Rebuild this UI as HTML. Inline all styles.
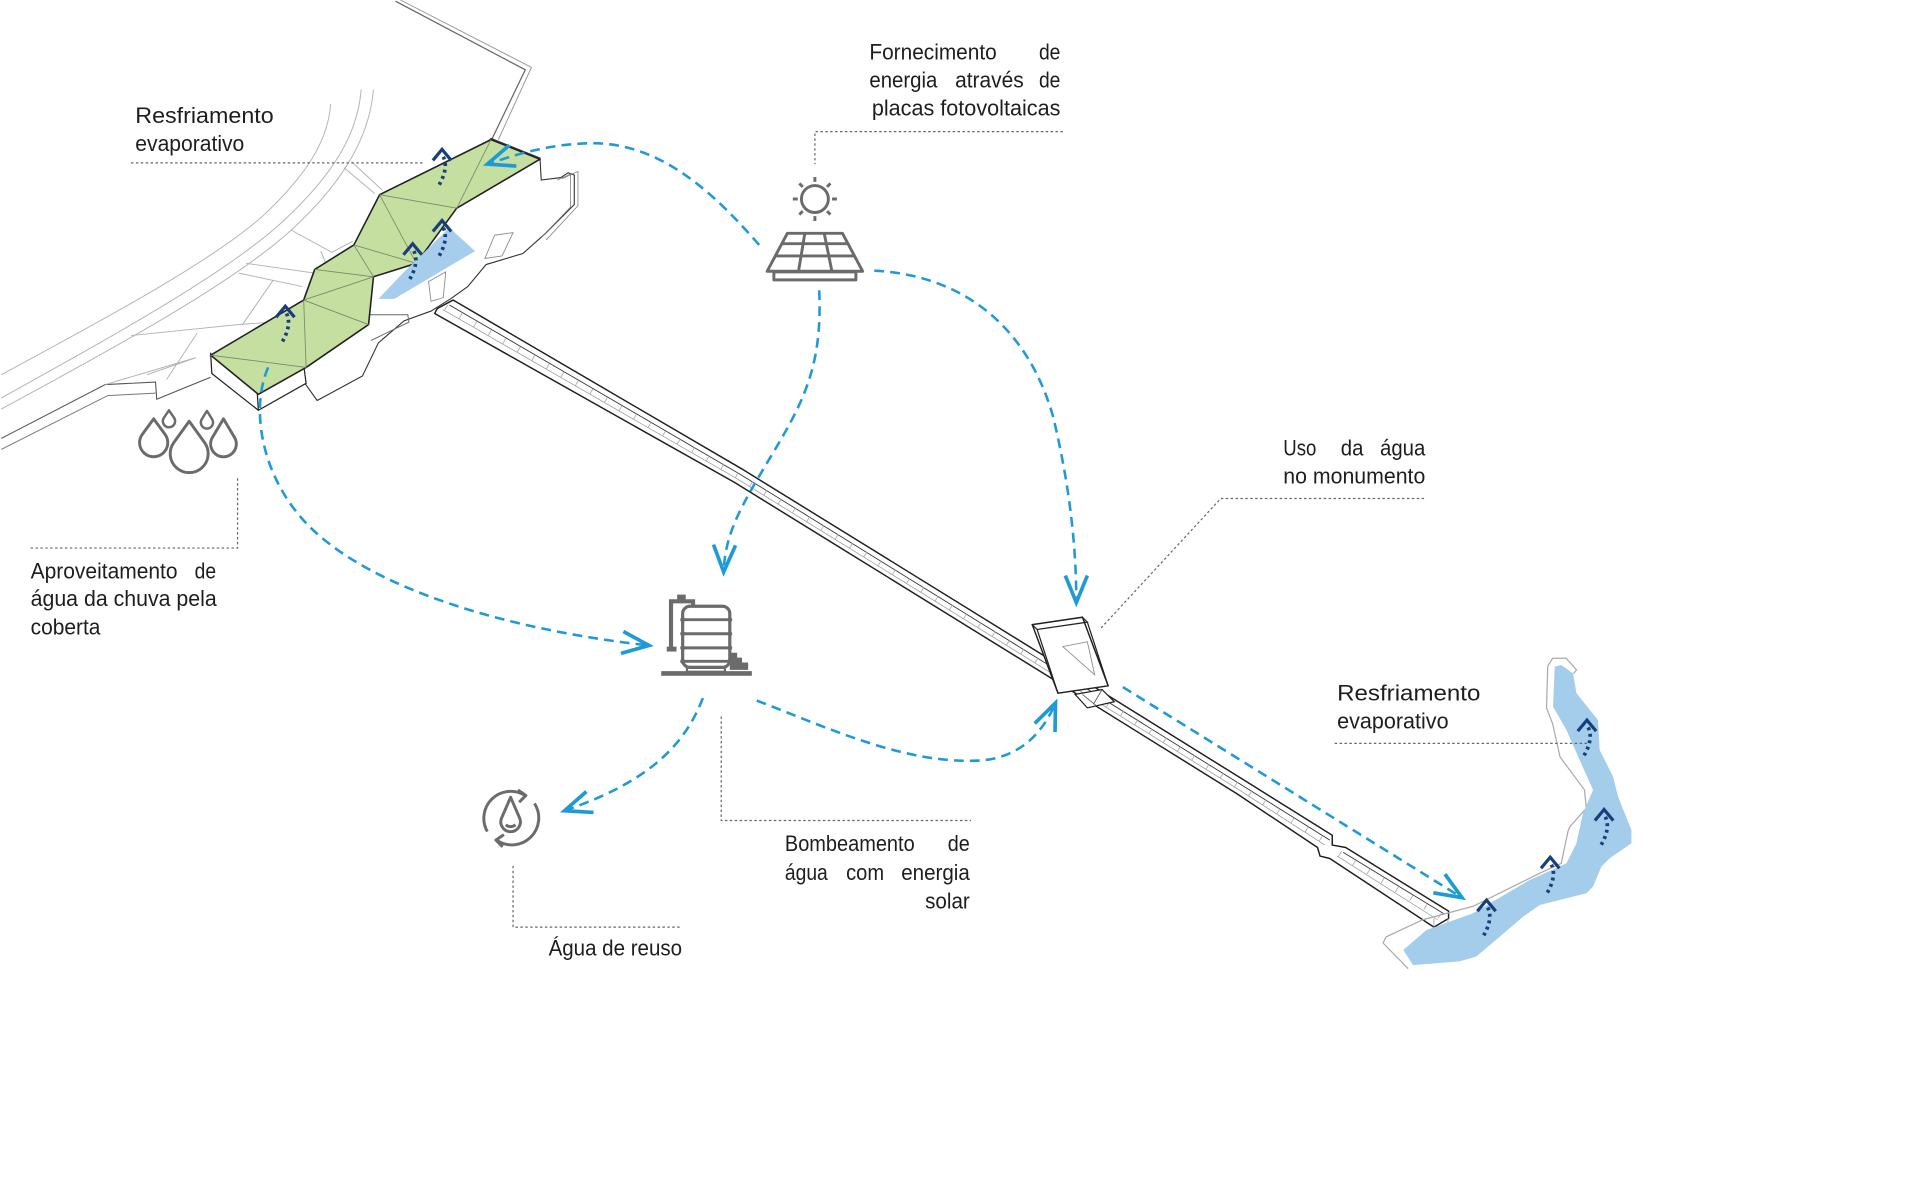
<!DOCTYPE html>
<html><head><meta charset="utf-8"><style>
html,body{margin:0;padding:0;background:#fff;}
svg{display:block;}
</style></head><body>
<svg xmlns="http://www.w3.org/2000/svg" width="1920" height="1192" viewBox="0 0 1568 973.3" preserveAspectRatio="none">
<style>
.ld{fill:none;stroke:#b4b4b4;stroke-width:0.8;stroke-linejoin:round}
.dk{fill:none;stroke:#1f1f1f;stroke-width:1.2;stroke-linejoin:round}
.bl{fill:none;stroke:#1f9ad6;stroke-width:2.1;stroke-dasharray:8 5}
.lead{fill:none;stroke:#666;stroke-width:1;stroke-dasharray:2 2}
.ic{fill:none;stroke:#6b6b6b;stroke-width:2.4;stroke-linejoin:round}
text{font-family:"Liberation Sans",sans-serif;font-size:18px;fill:#1e1e1e}
</style>
<defs>
<marker id="ah" viewBox="-26 -12 28 24" refX="0" refY="0" markerWidth="28" markerHeight="24" orient="auto" markerUnits="userSpaceOnUse" overflow="visible">
<path d="M-22,-9 L0,0 L-22,9" fill="none" stroke="#1f9ad6" stroke-width="3" stroke-linejoin="miter"/>
</marker>
<g id="ev">
<path d="M-7.5,9 L0,0 L7.5,9" fill="none" stroke="#183f7c" stroke-width="2.6"/>
<path d="M1,6 C4,12 3,20 -3,30" fill="none" stroke="#183f7c" stroke-width="3" stroke-dasharray="2.4 3"/>
</g>
</defs>

<!-- landscape -->
<path class="ld" d="M1,306 C90,258 175,212 215,176 C250,143 268,115 270,85"/>
<path class="ld" d="M1,325 C100,270 190,220 234,178 C272,142 292,110 295,73"/>
<path class="ld" d="M1,334 C105,278 200,225 243,183 C282,146 302,110 305,73"/>
<path d="M323,1 L429,57 L402,113" fill="none" stroke="#666" stroke-width="1"/>
<path d="M327,0 L434,55 L407,114" fill="none" stroke="#999" stroke-width="0.8"/>
<path d="M1,358 L86,314 L127,312 L128,326 L172,308" fill="none" stroke="#555" stroke-width="0.9"/>
<path d="M1,367 L88,323 L127,321" fill="none" stroke="#777" stroke-width="0.8"/>
<path class="ld" d="M281,137 L306,158 M287,132 L312,155 M238,188 L271,206 L288,197 M201,215 L257,223 M195,223 L247,234 M223,229 L198,265 M107,274 L195,265 L250,261 M161,272 L136,310 M120,306 L160,292 M86,314 L160,292 M262,205 L268,220"/>

<!-- building base -->
<path d="M401,113 L441,129 L442,147 L458,145 L464,141 L469,143 L469,167 L445,191 L427,207 L397,216 L382,234 L368,244 L360,249 L352,254 L330,262 L309,280 L296,307 L259,327 L249,313 L248,298 L299,264 L304,225 Z" fill="#fff" stroke="#333" stroke-width="0.9"/>
<path d="M455,147 L466,142 L466,169 L442,194 M459,146 L472,140 L472,168 L446,196" fill="none" stroke="#777" stroke-width="0.6"/>
<path d="M396,211 L404,192 L419,190 L410,209 Z" fill="none" stroke="#888" stroke-width="0.7"/>
<path d="M350,230 L364,222 L362,243 L352,246 Z" fill="none" stroke="#888" stroke-width="0.7"/>
<path d="M302,257 L333,257 L334,263 L303,278" fill="none" stroke="#666" stroke-width="0.8"/>
<path d="M172,288 L173,305 L211,335 L250,313 L248,298" fill="#fff" stroke="#222" stroke-width="1"/>
<path d="M211,335 L210,319" stroke="#222" stroke-width="1"/>

<!-- bridge -->
<path d="M357,252 L370,245 L606,383 L700,441 L860,540 L1016,637 L1088,682 L1088,690 L1099,692 L1183,744 L1183,750 L1171,757" class="dk" stroke-width="1.3"/>
<path d="M357,252 L355,256 L600,394 L694,452 L854,551 L1010,648 L1076,692 L1078,699 L1086,701 L1171,757" class="dk" stroke-width="1.3"/>
<path d="M367,249 L604,387 L698,445 L858,544 L1014,641 L1086,686 M1097,696 L1179,746" fill="none" stroke="#333" stroke-width="0.7"/>
<path d="M362,253 L602,391 L696,449 L856,548 L1012,645 L1082,690 M1092,699 L1174,751" fill="none" stroke="#999" stroke-width="0.6"/>
<path d="M364,251 L603,389 L697,447 L857,546 L1013,643 L1084,688 M1094,697 L1176,748" fill="none" stroke="#aaa" stroke-width="5" stroke-dasharray="0.7 13"/>
<path d="M1171,757 L1171,750 M1170.5,758 L1170.5,768 M1182.5,750 L1182.5,760" fill="none" stroke="#999" stroke-width="0.6"/>

<!-- monument -->
<path d="M843,510 L884,504 L905,560 L864,566 Z" fill="#fff" stroke="#222" stroke-width="1.2"/>
<path d="M843,510 L847,514 L888,508 L884,504 M847,514 L864,566 M888,508 L905,560" fill="none" stroke="#222" stroke-width="1"/>
<path d="M868,528 L888,524 L894,551 Z" fill="none" stroke="#888" stroke-width="0.7"/>
<path d="M878,567 L900,563 L910,573 L888,578 Z" fill="#fff" stroke="#222" stroke-width="1"/>
<path d="M884,567 L895,576 M900,563 L893,575" fill="none" stroke="#555" stroke-width="0.7"/>

<!-- river -->
<path d="M1150,791 L1129.5,770 L1132,765 L1162,751 L1203,740 L1257.5,713 L1275,705 L1280.5,679 L1282,675 L1295.5,660 L1294,645 L1274,618 L1268,591 L1263,578 L1264,544 L1268,537.5 L1279,537.5 L1287.5,547 L1285,550" fill="none" stroke="#aaa" stroke-width="1"/>
<path d="M1269.7,544.3 L1275,543 L1284.7,549.8 L1287.4,566 L1305,588 L1306.4,612.4 L1317.3,634 L1321.4,650.5 L1332.3,677.7 L1332.3,688.6 L1314.6,700.8 L1307.8,707.6 L1301,724 L1295.6,729.4 L1257.5,739 L1243.9,748.5 L1205.7,781 L1192,785 L1154,788 L1146,775.7 L1165,759.4 L1203,745.7 L1249.3,718.5 L1279.2,705 L1287.4,688.6 L1292.8,664 L1301,645 L1290,620.5 L1279.2,596 L1268.3,577 Z" fill="#a3cdea"/>

<!-- roof -->
<path d="M172,290 L248,245 L257,220 L289,200 L310,159 L401,114 L441,130 L373,170 L340,215 L305,226 L301,265 L250,300 L211,322 Z" fill="#c5dfa1" stroke="#222" stroke-width="1.3" stroke-linejoin="round"/>
<path d="M172,290 L250,300 M248,245 L250,300 M248,245 L301,265 M248,245 L305,226 M257,220 L305,226 M289,200 L305,226 M289,200 L340,215 M310,159 L340,215 M310,159 L373,170 M401,114 L373,170" fill="none" stroke="#7a8a6a" stroke-width="0.7"/>
<path d="M367,186 L388,205 L322,244 L309,244 L330,222 Z" fill="#a7cdec"/>

<!-- evaporation icons -->
<use href="#ev" x="361" y="122"/>
<use href="#ev" x="361" y="180"/>
<use href="#ev" x="337" y="199"/>
<use href="#ev" x="233" y="250"/>
<use href="#ev" x="1296" y="588"/>
<use href="#ev" x="1310" y="661"/>
<use href="#ev" x="1266" y="700"/>
<use href="#ev" x="1214" y="735"/>

<!-- blue connectors -->
<path class="bl" marker-end="url(#ah)" d="M620,200 C585,160 540,115 480,117 C450,118 428,124 398,134"/>
<path class="bl" marker-end="url(#ah)" d="M669,237 C672,300 655,330 630,372 C606,412 592,435 591,467"/>
<path class="bl" marker-end="url(#ah)" d="M714,221 C790,225 840,270 860,340 C872,390 879,440 879,492"/>
<path class="bl" marker-end="url(#ah)" d="M219,300 C205,332 212,385 248,425 C300,482 420,515 530,527"/>
<path class="bl" marker-end="url(#ah)" d="M574,570 C558,612 525,640 461,662"/>
<path class="bl" marker-end="url(#ah)" d="M618,572 C680,596 740,624 800,621 C830,619 850,602 862,574"/>
<path class="bl" marker-end="url(#ah)" d="M917,561 L1194,733"/>

<!-- sun + panel -->
<g class="ic">
<circle cx="665.5" cy="162.5" r="11"/>
<path d="M665.5,148.5 V144.5 M665.5,176.5 V180.5 M651.5,162.5 H647.5 M679.5,162.5 H683.5 M655.6,152.6 L652.8,149.8 M675.4,152.6 L678.2,149.8 M655.6,172.4 L652.8,175.2 M675.4,172.4 L678.2,175.2"/>
<path d="M643,190.5 L688,190.5 L704.5,221.5 L626.5,221.5 Z"/>
<path d="M638.5,199 L692.5,199 M633.2,209 L697.8,209 M657.3,190.5 L652.1,221.5 M673.1,190.5 L679.4,221.5"/>
<rect x="632" y="222" width="67" height="6.5"/>
</g>

<!-- drops -->
<g class="ic">
<path d="M125.5,342 L134.8,354.7 A11.5,11.5 0 1 1 116.2,354.7 Z"/>
<path d="M154.5,344 L167.1,361.4 A15.5,15.5 0 1 1 141.9,361.4 Z"/>
<path d="M182.5,342 L191.5,357.1 A10.5,10.5 0 1 1 173.5,357.1 Z"/>
<path d="M138,335 L142.2,341.2 A5,5 0 1 1 133.8,341.2 Z" stroke-width="2"/>
<path d="M169,335.5 L173.3,342.4 A5,5 0 1 1 164.7,342.4 Z" stroke-width="2"/>
</g>

<!-- tank -->
<g stroke="#6b6b6b" fill="none">
<path d="M548,531 L548,491 L566,491 L566,496" stroke-width="3.4"/>
<rect x="553" y="485.5" width="7" height="4" fill="#6b6b6b" stroke="none"/>
<rect x="544.5" y="528" width="8" height="4" fill="#6b6b6b" stroke="none"/>
<rect x="557.5" y="495" width="38.5" height="50" rx="6" stroke-width="2.6"/>
<path d="M557.5,506 H596 M557.5,517.5 H596 M557.5,529 H596 M557.5,540 H596" stroke-width="2.4"/>
<g fill="#6b6b6b" stroke="none">
<circle cx="557.5" cy="506" r="2"/><circle cx="596" cy="506" r="2"/>
<circle cx="557.5" cy="517.5" r="2"/><circle cx="596" cy="517.5" r="2"/>
<circle cx="557.5" cy="529" r="2"/><circle cx="596" cy="529" r="2"/>
<circle cx="557.5" cy="540" r="2"/><circle cx="596" cy="540" r="2"/>
<rect x="540" y="548" width="74" height="3.8"/>
<path d="M596,533 h6 v4 h4 v4 h5 v6 h-15 z"/>
</g>
<rect x="561" y="544.5" width="31" height="4" stroke-width="1.8"/>
</g>

<!-- reuse icon -->
<g class="ic" stroke-width="2.2">
<path d="M398,679 A22,22 0 0 1 428,649"/>
<path d="M423,645 L429.5,649.5 L424,655"/>
<path d="M436.5,656 A22,22 0 0 1 405.5,686"/>
<path d="M411.5,681.5 L405,686 L410.5,691.5"/>
<path d="M417,651 L424.3,667.8 A8,8 0 1 1 409.7,667.8 Z"/>
<path d="M413,673.5 Q417,676.5 421,673.5"/>
</g>

<!-- leader lines -->
<path class="lead" d="M107,133 L346,133"/>
<path class="lead" d="M868,107.5 L665.5,107.5 L665.5,134"/>
<path class="lead" d="M1163,407 L997,407 L899,513"/>
<path class="lead" d="M25,447.5 L194,447.5 L194,390"/>
<path class="lead" d="M419,707 L419,757 L557,757"/>
<path class="lead" d="M589,585 L589,670 L793,670"/>
<path class="lead" d="M1090,607 L1297,607"/>

<!-- text -->
<text x="110.5" y="100.5" textLength="113" lengthAdjust="spacingAndGlyphs">Resfriamento</text>
<text x="110.5" y="123.5" textLength="89" lengthAdjust="spacingAndGlyphs">evaporativo</text>

<text x="710" y="48.5" textLength="104" lengthAdjust="spacingAndGlyphs">Fornecimento</text>
<text x="848.5" y="48.5" textLength="17.5" lengthAdjust="spacingAndGlyphs">de</text>
<text x="710" y="71.5" textLength="55.5" lengthAdjust="spacingAndGlyphs">energia</text>
<text x="780" y="71.5" textLength="56" lengthAdjust="spacingAndGlyphs">através</text>
<text x="848.5" y="71.5" textLength="17.5" lengthAdjust="spacingAndGlyphs">de</text>
<text x="712" y="94.5" textLength="154" lengthAdjust="spacingAndGlyphs">placas fotovoltaicas</text>

<text x="1048" y="372" textLength="27" lengthAdjust="spacingAndGlyphs">Uso</text>
<text x="1095" y="372" textLength="18.5" lengthAdjust="spacingAndGlyphs">da</text>
<text x="1127" y="372" textLength="37" lengthAdjust="spacingAndGlyphs">água</text>
<text x="1048" y="395" textLength="116" lengthAdjust="spacingAndGlyphs">no monumento</text>

<text x="25" y="472.5" textLength="120" lengthAdjust="spacingAndGlyphs">Aproveitamento</text>
<text x="159" y="472.5" textLength="17.5" lengthAdjust="spacingAndGlyphs">de</text>
<text x="25" y="495" textLength="152" lengthAdjust="spacingAndGlyphs">água da chuva pela</text>
<text x="25" y="518" textLength="57" lengthAdjust="spacingAndGlyphs">coberta</text>

<text x="448" y="780" textLength="109" lengthAdjust="spacingAndGlyphs">Água de reuso</text>

<text x="641" y="695" textLength="106" lengthAdjust="spacingAndGlyphs">Bombeamento</text>
<text x="774" y="695" textLength="18" lengthAdjust="spacingAndGlyphs">de</text>
<text x="641" y="718.5" textLength="35" lengthAdjust="spacingAndGlyphs">água</text>
<text x="691" y="718.5" textLength="31" lengthAdjust="spacingAndGlyphs">com</text>
<text x="736" y="718.5" textLength="56" lengthAdjust="spacingAndGlyphs">energia</text>
<text x="755.5" y="742" textLength="36.5" lengthAdjust="spacingAndGlyphs">solar</text>

<text x="1092" y="572" textLength="117" lengthAdjust="spacingAndGlyphs">Resfriamento</text>
<text x="1092" y="595" textLength="91" lengthAdjust="spacingAndGlyphs">evaporativo</text>
</svg>
</body></html>
